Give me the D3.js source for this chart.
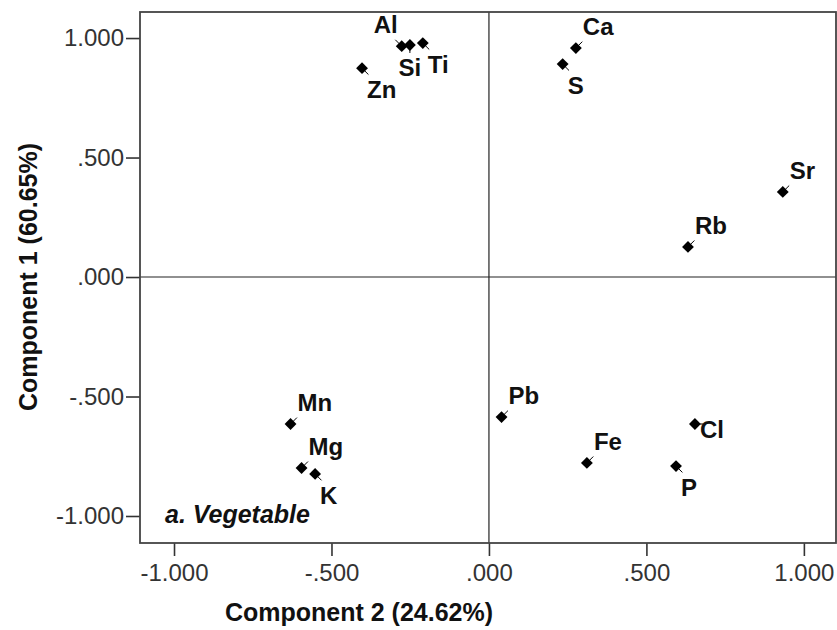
<!DOCTYPE html>
<html lang="en">
<head>
<meta charset="utf-8">
<title>Component Plot - Vegetable</title>
<script src="https://cdn.jsdelivr.net/npm/d3@7"></script>
<style>
  body { margin: 0; background: #fff; }
  svg text { font-family: "Liberation Sans", Arial, sans-serif; }
  .tick text { font-size: 24px; fill: #333; }
  .ptlabel { font-size: 24px; font-weight: bold; fill: #111; }
  .title { font-size: 25px; font-weight: bold; fill: #111; }
</style>
</head>
<body>
<script>
// elements and their loadings
var elements = ["Al", "Si", "Ti", "Zn", "Ca", "S", "Sr", "Rb", "Mn", "Mg", "K", "Pb", "Fe", "Cl", "P"];
var comp2 = [-0.277, -0.251, -0.210, -0.403, 0.276, 0.234, 0.933, 0.632, -0.630, -0.595, -0.552, 0.040, 0.311, 0.654, 0.594];
var comp1 = [0.966, 0.971, 0.979, 0.874, 0.958, 0.891, 0.356, 0.126, -0.615, -0.799, -0.824, -0.586, -0.778, -0.615, -0.791];
// where each label sits relative to its point
var labelSide = ["nw", "s", "se", "se", "ne", "se", "ne", "ne", "ne", "ne", "se", "ne", "ne", "e", "se"];
var tickValues = [-1, -0.5, 0, 0.5, 1];

var w = 837, h = 630;
var mLeft = 140, mRight = 836, mTop = 12, mBottom = 543;

var x = d3.scaleLinear().domain([-1.108, 1.102]).range([mLeft, mRight]);
var y = d3.scaleLinear().domain([-1.113, 1.109]).range([mBottom, mTop]);

// SPSS style: no leading zero
var fmt = function(d) {
  return (d < 0 ? "-" : "") + Math.abs(d).toFixed(3).replace(/^0\./, ".");
};

var svg = d3.select("body").append("svg")
  .attr("width", w)
  .attr("height", h);

// reference lines at zero
svg.append("line")
  .attr("x1", x(0)).attr("x2", x(0))
  .attr("y1", mTop).attr("y2", mBottom)
  .attr("stroke", "#222").attr("stroke-width", 1.2);
svg.append("line")
  .attr("x1", mLeft).attr("x2", mRight)
  .attr("y1", y(0)).attr("y2", y(0))
  .attr("stroke", "#222").attr("stroke-width", 1.2);

// axes
var xAxis = svg.append("g")
  .attr("transform", "translate(0," + mBottom + ")")
  .call(d3.axisBottom(x).tickValues(tickValues).tickFormat(fmt).tickSize(13).tickPadding(5));
var yAxis = svg.append("g")
  .attr("transform", "translate(" + mLeft + ",0)")
  .call(d3.axisLeft(y).tickValues(tickValues).tickFormat(fmt).tickSize(14).tickPadding(2));
[xAxis, yAxis].forEach(function(a) {
  a.select(".domain").remove();
  a.selectAll(".tick line").attr("stroke", "#333").attr("stroke-width", 1.6);
  a.selectAll(".tick text").attr("font-family", null).attr("font-size", null);
});
xAxis.selectAll(".tick text").attr("dy", "0.85em");

// frame
svg.append("rect")
  .attr("x", mLeft).attr("y", mTop)
  .attr("width", mRight - mLeft).attr("height", mBottom - mTop)
  .attr("fill", "none").attr("stroke", "#444").attr("stroke-width", 1.8);

// points
var pts = elements.map(function(e, i) {
  return { name: e, cx: x(comp2[i]), cy: y(comp1[i]), side: labelSide[i] };
});

var offs = {
  ne: { dx: 7, dy: -13, anchor: "start", lx: 4, ly: -4 },
  nw: { dx: -4, dy: -13, anchor: "end", lx: -4, ly: -4 },
  se: { dx: 5, dy: 30, anchor: "start", lx: 4, ly: 4 },
  s:  { dx: 0, dy: 31, anchor: "middle", lx: 0, ly: 5 },
  e:  { dx: 5, dy: 14, anchor: "start", lx: 5, ly: 0 }
};

var g = svg.append("g");
g.selectAll("line.lead")
  .data(pts)
  .enter().append("line")
  .attr("class", "lead")
  .attr("x1", function(d) { return d.cx; })
  .attr("y1", function(d) { return d.cy; })
  .attr("x2", function(d) { return d.cx + offs[d.side].lx * 1.6; })
  .attr("y2", function(d) { return d.cy + offs[d.side].ly * 1.6; })
  .attr("stroke", "#000").attr("stroke-width", 1);

g.selectAll("path.pt")
  .data(pts)
  .enter().append("path")
  .attr("class", "pt")
  .attr("d", d3.symbol(d3.symbolSquare, 70))
  .attr("transform", function(d) { return "translate(" + d.cx + "," + d.cy + ") rotate(45)"; })
  .attr("fill", "#000");

g.selectAll("text.ptlabel")
  .data(pts)
  .enter().append("text")
  .attr("class", "ptlabel")
  .attr("x", function(d) { return d.cx + offs[d.side].dx; })
  .attr("y", function(d) { return d.cy + offs[d.side].dy; })
  .attr("text-anchor", function(d) { return offs[d.side].anchor; })
  .text(function(d) { return d.name; });

// panel note
svg.append("text")
  .attr("x", 165).attr("y", 523)
  .attr("font-size", "25px")
  .attr("font-weight", "bold")
  .attr("font-style", "italic")
  .attr("fill", "#111")
  .text("a. Vegetable");

// axis titles
svg.append("text")
  .attr("class", "title")
  .attr("x", 359).attr("y", 621)
  .attr("text-anchor", "middle")
  .text("Component 2 (24.62%)");
svg.append("text")
  .attr("class", "title")
  .attr("transform", "translate(37," + y(0) + ") rotate(-90)")
  .attr("text-anchor", "middle")
  .text("Component 1 (60.65%)");
</script>
</body>
</html>
